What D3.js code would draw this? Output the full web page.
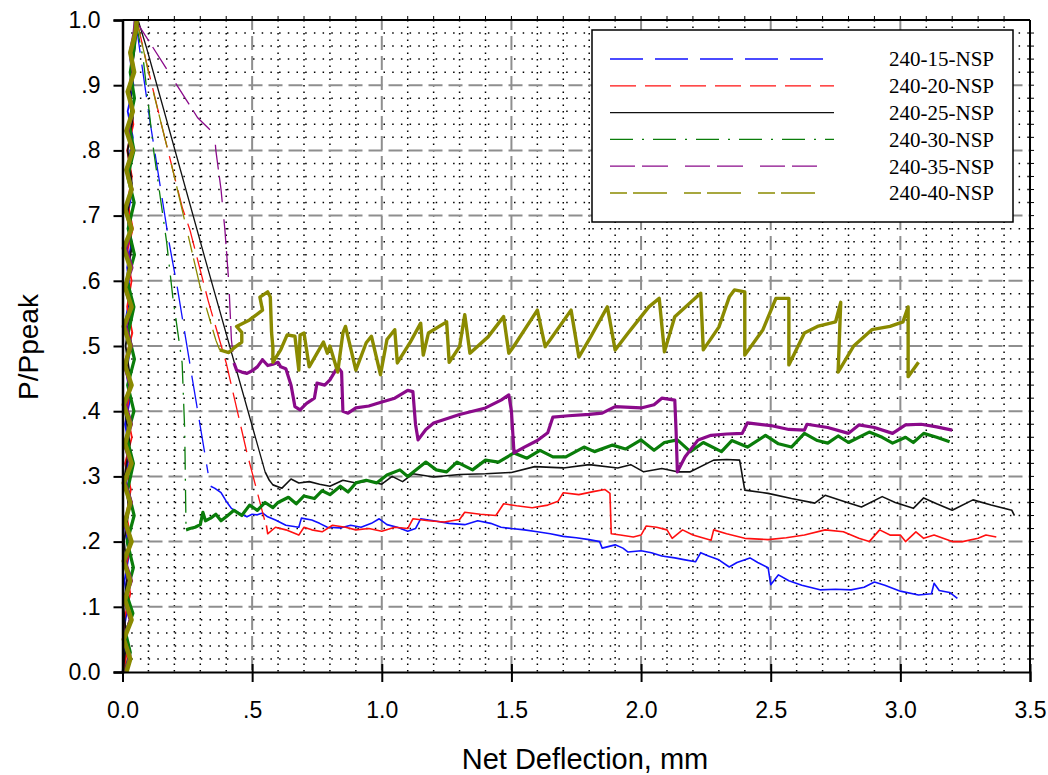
<!DOCTYPE html>
<html><head><meta charset="utf-8">
<script src="https://cdn.jsdelivr.net/npm/d3@7"></script>
<style>body{margin:0;background:#fff}svg{display:block}</style>
</head><body>
<svg id="c" width="1048" height="775"></svg>
<script>
// ---------------- DATA ----------------
const seriesNames = ["240-15-NSP","240-20-NSP","240-25-NSP","240-30-NSP","240-35-NSP","240-40-NSP"];
const xTickValues = [0,0.5,1.0,1.5,2.0,2.5,3.0,3.5];
const xTickLabels = ["0.0",".5","1.0","1.5","2.0","2.5","3.0","3.5"];
const yTickValues = [0,0.1,0.2,0.3,0.4,0.5,0.6,0.7,0.8,0.9,1.0];
const yTickLabels = ["0.0",".1",".2",".3",".4",".5",".6",".7",".8",".9","1.0"];

// pre-peak (loading) branches
const blueRise = [[0.0,0],[0.01,0.03],[0.003,0.06],[0.02,0.1],[0.008,0.14],[0.025,0.18],[0.01,0.22],[0.03,0.26],[0.012,0.3],[0.028,0.34],[0.01,0.38],[0.03,0.42],[0.015,0.46],[0.032,0.5],[0.012,0.54],[0.03,0.58],[0.018,0.62],[0.035,0.66],[0.02,0.7],[0.038,0.74],[0.022,0.78],[0.04,0.82],[0.02,0.86],[0.042,0.9],[0.03,0.94],[0.045,0.97],[0.05,1.0]];
const redRise = [[0.005,0],[0.02,0.04],[0.006,0.08],[0.03,0.12],[0.012,0.16],[0.035,0.2],[0.015,0.24],[0.032,0.28],[0.01,0.32],[0.036,0.36],[0.016,0.4],[0.034,0.44],[0.012,0.48],[0.038,0.52],[0.018,0.56],[0.035,0.6],[0.015,0.64],[0.04,0.68],[0.02,0.72],[0.036,0.76],[0.018,0.8],[0.042,0.84],[0.025,0.88],[0.045,0.92],[0.035,0.96],[0.055,1.0]];
const blackRise = [[0.002,0],[0.015,0.05],[0.004,0.1],[0.02,0.15],[0.006,0.2],[0.025,0.25],[0.008,0.3],[0.028,0.35],[0.01,0.4],[0.03,0.45],[0.012,0.5],[0.03,0.55],[0.015,0.6],[0.035,0.65],[0.018,0.7],[0.036,0.75],[0.02,0.8],[0.04,0.85],[0.028,0.9],[0.045,0.95],[0.06,1.0]];
const greenRise = [[0.01,0],[0.03,0.03],[0.012,0.06],[0.04,0.09],[0.015,0.12],[0.042,0.16],[0.018,0.2],[0.045,0.24],[0.02,0.28],[0.042,0.32],[0.016,0.36],[0.044,0.4],[0.02,0.44],[0.046,0.48],[0.022,0.52],[0.044,0.56],[0.018,0.6],[0.046,0.64],[0.022,0.68],[0.045,0.72],[0.02,0.76],[0.044,0.8],[0.025,0.84],[0.046,0.88],[0.03,0.92],[0.046,0.96],[0.05,1.0]];
const purpleRise = [[0.012,0],[0.028,0.025],[0.006,0.05],[0.03,0.08],[0.008,0.11],[0.034,0.14],[0.01,0.17],[0.032,0.2],[0.006,0.23],[0.034,0.26],[0.01,0.29],[0.03,0.32],[0.008,0.35],[0.034,0.38],[0.012,0.41],[0.03,0.44],[0.008,0.47],[0.034,0.5],[0.012,0.53],[0.032,0.56],[0.01,0.59],[0.036,0.62],[0.014,0.65],[0.034,0.68],[0.012,0.71],[0.036,0.74],[0.016,0.77],[0.038,0.8],[0.02,0.83],[0.04,0.86],[0.022,0.89],[0.042,0.92],[0.03,0.95],[0.045,0.98],[0.05,1.0]];
const oliveRise = [[0.015,0],[0.03,0.02],[0.005,0.05],[0.035,0.08],[0.01,0.11],[0.03,0.14],[0.005,0.17],[0.035,0.2],[0.01,0.23],[0.03,0.26],[0.005,0.29],[0.035,0.32],[0.01,0.35],[0.03,0.38],[0.005,0.41],[0.035,0.44],[0.01,0.47],[0.03,0.5],[0.005,0.53],[0.035,0.56],[0.01,0.59],[0.03,0.62],[0.005,0.65],[0.035,0.68],[0.01,0.71],[0.035,0.74],[0.015,0.77],[0.04,0.8],[0.015,0.83],[0.04,0.86],[0.02,0.89],[0.045,0.92],[0.03,0.95],[0.05,0.98],[0.055,1.0]];

// post-peak drop branches
const blueDrop = [[0.05,1.0],[0.105,0.847],[0.18,0.658],[0.213,0.586],[0.27,0.448],[0.33,0.305]];
const redDrop = [[0.055,1.0],[0.093,0.934],[0.15,0.84],[0.23,0.713],[0.26,0.678],[0.33,0.57],[0.40,0.474],[0.48,0.336],[0.55,0.23]];
const blackDrop = [[0.06,1.0],[0.093,0.957],[0.317,0.636],[0.55,0.307]];
const greenDrop = [[0.05,1.0],[0.08,0.94],[0.12,0.8],[0.17,0.66],[0.194,0.575],[0.23,0.474],[0.24,0.37],[0.245,0.22]];
const purpleDrop = [[0.05,1.0],[0.17,0.925],[0.29,0.85],[0.355,0.825],[0.36,0.8],[0.38,0.74],[0.395,0.678],[0.41,0.597],[0.42,0.51],[0.43,0.474]];
const oliveDrop = [[0.055,1.0],[0.1,0.92],[0.2,0.76],[0.3,0.59],[0.36,0.509],[0.375,0.494]];

// residual branches
const blueResid = [[0.34,0.285],[0.355,0.282],[0.38,0.275],[0.40,0.262],[0.42,0.251],[0.45,0.244],[0.48,0.238],[0.50,0.242],[0.52,0.241],[0.54,0.244],[0.56,0.238],[0.59,0.233],[0.63,0.225],[0.68,0.222],[0.69,0.236],[0.73,0.233],[0.76,0.228],[0.79,0.222],[0.84,0.221],[0.88,0.225],[0.92,0.222],[0.96,0.228],[0.99,0.235],[1.02,0.226],[1.06,0.222],[1.10,0.216],[1.13,0.22],[1.15,0.235],[1.2,0.232],[1.26,0.228],[1.32,0.226],[1.37,0.232],[1.42,0.228],[1.46,0.222],[1.5,0.22],[1.55,0.218],[1.6,0.215],[1.65,0.212],[1.7,0.208],[1.75,0.206],[1.8,0.203],[1.84,0.2],[1.85,0.19],[1.9,0.195],[1.93,0.19],[1.95,0.184],[2.0,0.186],[2.04,0.183],[2.08,0.178],[2.13,0.175],[2.17,0.172],[2.21,0.169],[2.23,0.183],[2.26,0.178],[2.3,0.172],[2.34,0.161],[2.37,0.168],[2.42,0.175],[2.45,0.168],[2.49,0.16],[2.50,0.134],[2.53,0.149],[2.57,0.14],[2.62,0.133],[2.69,0.126],[2.75,0.127],[2.81,0.126],[2.86,0.13],[2.90,0.138],[2.94,0.133],[3.0,0.124],[3.07,0.118],[3.12,0.12],[3.13,0.136],[3.15,0.125],[3.19,0.122],[3.22,0.113]];
const redResid = [[0.555,0.225],[0.56,0.212],[0.59,0.222],[0.63,0.218],[0.68,0.21],[0.70,0.222],[0.73,0.218],[0.77,0.215],[0.81,0.225],[0.86,0.222],[0.9,0.218],[0.95,0.22],[1.0,0.216],[1.05,0.222],[1.1,0.22],[1.12,0.235],[1.18,0.232],[1.24,0.23],[1.3,0.234],[1.32,0.245],[1.38,0.242],[1.44,0.24],[1.47,0.258],[1.52,0.255],[1.58,0.252],[1.64,0.256],[1.68,0.262],[1.7,0.275],[1.76,0.272],[1.82,0.277],[1.86,0.28],[1.88,0.274],[1.885,0.212],[1.92,0.21],[1.97,0.207],[2.0,0.21],[2.02,0.224],[2.06,0.222],[2.1,0.218],[2.12,0.205],[2.16,0.218],[2.2,0.21],[2.27,0.202],[2.28,0.218],[2.33,0.212],[2.4,0.205],[2.49,0.203],[2.56,0.206],[2.63,0.21],[2.71,0.218],[2.78,0.215],[2.84,0.205],[2.88,0.2],[2.92,0.218],[2.96,0.21],[3.0,0.21],[3.02,0.2],[3.06,0.215],[3.09,0.205],[3.13,0.21],[3.2,0.2],[3.24,0.2],[3.3,0.205],[3.33,0.21],[3.37,0.207]];
const blackResid = [[0.55,0.307],[0.565,0.295],[0.58,0.287],[0.615,0.282],[0.65,0.296],[0.68,0.29],[0.72,0.292],[0.76,0.288],[0.8,0.285],[0.85,0.294],[0.9,0.29],[0.95,0.293],[1.0,0.288],[1.04,0.3],[1.08,0.292],[1.12,0.304],[1.2,0.299],[1.3,0.303],[1.4,0.304],[1.5,0.306],[1.59,0.315],[1.7,0.313],[1.8,0.318],[1.91,0.313],[1.96,0.318],[2.01,0.307],[2.08,0.312],[2.14,0.307],[2.19,0.307],[2.28,0.325],[2.33,0.326],[2.38,0.325],[2.40,0.279],[2.49,0.274],[2.58,0.266],[2.67,0.259],[2.71,0.271],[2.78,0.262],[2.85,0.253],[2.93,0.269],[2.98,0.26],[3.05,0.251],[3.09,0.267],[3.14,0.258],[3.2,0.248],[3.28,0.264],[3.35,0.256],[3.43,0.248],[3.44,0.24]];
const greenResid = [[0.245,0.218],[0.26,0.22],[0.28,0.222],[0.3,0.226],[0.31,0.245],[0.32,0.232],[0.34,0.236],[0.36,0.242],[0.38,0.232],[0.4,0.238],[0.43,0.248],[0.46,0.24],[0.49,0.256],[0.52,0.248],[0.55,0.26],[0.58,0.252],[0.6,0.26],[0.64,0.268],[0.67,0.258],[0.7,0.27],[0.74,0.266],[0.77,0.278],[0.8,0.272],[0.84,0.285],[0.87,0.276],[0.9,0.29],[0.94,0.294],[0.98,0.29],[1.02,0.302],[1.07,0.31],[1.1,0.3],[1.17,0.322],[1.21,0.31],[1.25,0.307],[1.29,0.322],[1.35,0.31],[1.4,0.325],[1.45,0.322],[1.51,0.336],[1.56,0.328],[1.61,0.34],[1.66,0.33],[1.71,0.33],[1.78,0.345],[1.82,0.338],[1.89,0.348],[1.94,0.342],[2.0,0.356],[2.05,0.34],[2.09,0.352],[2.14,0.356],[2.19,0.338],[2.24,0.352],[2.31,0.338],[2.35,0.355],[2.41,0.345],[2.48,0.363],[2.53,0.35],[2.58,0.345],[2.63,0.366],[2.68,0.355],[2.72,0.351],[2.76,0.362],[2.8,0.352],[2.88,0.368],[2.93,0.36],[2.97,0.351],[3.02,0.36],[3.05,0.352],[3.09,0.366],[3.14,0.36],[3.19,0.353]];
const purpleResid = [[0.43,0.474],[0.44,0.463],[0.46,0.46],[0.48,0.458],[0.5,0.462],[0.52,0.468],[0.54,0.479],[0.56,0.47],[0.58,0.472],[0.6,0.475],[0.61,0.468],[0.63,0.465],[0.65,0.44],[0.665,0.407],[0.685,0.402],[0.71,0.412],[0.74,0.42],[0.75,0.443],[0.78,0.44],[0.8,0.448],[0.83,0.468],[0.845,0.46],[0.85,0.4],[0.87,0.397],[0.9,0.405],[0.95,0.408],[1.0,0.414],[1.05,0.42],[1.1,0.432],[1.12,0.43],[1.13,0.38],[1.14,0.356],[1.17,0.372],[1.2,0.382],[1.3,0.395],[1.4,0.405],[1.46,0.417],[1.49,0.425],[1.5,0.4],[1.51,0.336],[1.55,0.345],[1.6,0.355],[1.64,0.367],[1.66,0.391],[1.72,0.393],[1.8,0.395],[1.85,0.397],[1.9,0.407],[2.0,0.405],[2.05,0.41],[2.08,0.42],[2.13,0.417],[2.135,0.37],[2.14,0.307],[2.17,0.33],[2.22,0.356],[2.27,0.363],[2.33,0.365],[2.39,0.366],[2.41,0.382],[2.5,0.378],[2.57,0.372],[2.63,0.371],[2.64,0.38],[2.72,0.375],[2.8,0.366],[2.84,0.379],[2.9,0.375],[2.97,0.366],[3.02,0.379],[3.08,0.38],[3.14,0.376],[3.2,0.371]];
const oliveResid = [[0.375,0.494],[0.41,0.49],[0.43,0.497],[0.46,0.506],[0.46,0.521],[0.44,0.53],[0.49,0.54],[0.5,0.543],[0.54,0.555],[0.53,0.575],[0.56,0.583],[0.57,0.575],[0.575,0.52],[0.58,0.498],[0.58,0.475],[0.61,0.494],[0.635,0.517],[0.665,0.515],[0.68,0.463],[0.685,0.517],[0.70,0.52],[0.72,0.468],[0.775,0.506],[0.79,0.489],[0.8,0.5],[0.83,0.46],[0.85,0.52],[0.86,0.53],[0.9,0.463],[0.94,0.505],[0.96,0.515],[0.995,0.456],[1.02,0.51],[1.05,0.525],[1.06,0.474],[1.11,0.506],[1.15,0.535],[1.16,0.486],[1.18,0.52],[1.25,0.537],[1.26,0.475],[1.3,0.499],[1.32,0.548],[1.34,0.489],[1.41,0.514],[1.47,0.545],[1.49,0.489],[1.51,0.5],[1.6,0.555],[1.63,0.499],[1.65,0.51],[1.73,0.555],[1.76,0.483],[1.8,0.51],[1.87,0.56],[1.9,0.494],[1.95,0.52],[2.03,0.56],[2.07,0.573],[2.09,0.491],[2.13,0.545],[2.2,0.57],[2.23,0.581],[2.24,0.494],[2.3,0.529],[2.34,0.575],[2.36,0.586],[2.4,0.583],[2.4,0.486],[2.47,0.525],[2.52,0.573],[2.57,0.573],[2.57,0.471],[2.63,0.52],[2.68,0.53],[2.75,0.537],[2.77,0.567],[2.76,0.46],[2.82,0.5],[2.89,0.525],[2.96,0.53],[3.01,0.537],[3.03,0.56],[3.03,0.453],[3.07,0.475]];

// ---------------- DRAW ----------------
const svg = d3.select("#c");
const X0 = 122.5, X1 = 1030, Y0 = 672, Y1 = 20;
const x = d3.scaleLinear().domain([0,3.5]).range([X0,X1]);
const y = d3.scaleLinear().domain([0,1]).range([Y0,Y1]);

const styles = [
  {color:"#1010ff", dash:"33,12", rw:1.3, resW:1.6},
  {color:"#ff1010", dash:"26,9", rw:1.3, resW:1.6},
  {color:"#111111", dash:null, rw:1.3, resW:1.6},
  {color:"#0a7d0a", dash:"23,9,2,9", rw:1.3, resW:3.2},
  {color:"#8a0a8a", dash:"25,7,26,17", rw:1.3, resW:3.2},
  {color:"#8a8a00", dash:"17,6,34,17", rw:1.3, resW:3.4}
];
const rises = [blueRise,redRise,blackRise,greenRise,purpleRise,oliveRise];
const drops = [blueDrop,redDrop,blackDrop,greenDrop,purpleDrop,oliveDrop];
const resids = [blueResid,redResid,blackResid,greenResid,purpleResid,oliveResid];
const riseW = [1.8,1.8,1.8,3.2,3.4,4.5];

// minor grid
const g = svg.append("g");
const minorX = d3.range(1,35).map(i=>i/10).filter((v,i)=>((i+1)%5)!==0);
const minorY = d3.range(1,50).map(i=>i/50).filter((v,i)=>((i+1)%5)!==0);
g.selectAll(".mx").data(minorX).join("line")
  .attr("x1",d=>x(d)).attr("x2",d=>x(d)).attr("y1",Y1).attr("y2",Y0)
  .attr("stroke","#000").attr("stroke-width",1.5).attr("stroke-dasharray","1.5,5");
g.selectAll(".my").data(minorY).join("line")
  .attr("x1",X0).attr("x2",X1).attr("y1",d=>y(d)).attr("y2",d=>y(d))
  .attr("stroke","#000").attr("stroke-width",1.5).attr("stroke-dasharray","1.5,7.2");
// major grid
const majX = [0.5,1.0,1.5,2.0,2.5,3.0];
const majY = [0.1,0.2,0.3,0.4,0.5,0.6,0.7,0.8,0.9];
g.selectAll(".gx").data(majX).join("line")
  .attr("x1",d=>x(d)).attr("x2",d=>x(d)).attr("y1",Y1).attr("y2",Y0)
  .attr("stroke","#8e8e8e").attr("stroke-width",2).attr("stroke-dasharray","14,6").attr("stroke-dashoffset",4);
g.selectAll(".gy").data(majY).join("line")
  .attr("x1",X0).attr("x2",X1).attr("y1",d=>y(d)).attr("y2",d=>y(d))
  .attr("stroke","#8e8e8e").attr("stroke-width",2).attr("stroke-dasharray","14,6").attr("stroke-dashoffset",-6);

// series
const line = d3.line().x(d=>x(d[0])).y(d=>y(d[1]));
const sg = svg.append("g");
for (let i=0;i<6;i++){
  const s = styles[i];
  sg.append("path").attr("d",line(drops[i])).attr("fill","none").attr("stroke",s.color)
    .attr("stroke-width",s.rw).attr("stroke-dasharray",s.dash);
  sg.append("path").attr("d",line(resids[i])).attr("fill","none").attr("stroke",s.color)
    .attr("stroke-width",s.resW).attr("stroke-linejoin","round");
}
for (let i=0;i<6;i++){
  sg.append("path").attr("d",line(rises[i])).attr("fill","none").attr("stroke",styles[i].color)
    .attr("stroke-width",riseW[i]).attr("stroke-linejoin","round");
}

// axes
const ax = svg.append("g").attr("font-family","'Liberation Sans', Arial, sans-serif");
const xAxis = d3.axisBottom(x).tickValues(xTickValues).tickFormat((d,i)=>xTickLabels[i]).tickSize(10).tickPadding(20);
const gx = ax.append("g").attr("transform",`translate(0,${Y0})`).call(xAxis);
gx.select(".domain").attr("stroke-width",2);
gx.selectAll(".tick line").attr("stroke-width",2).attr("y1",-8);
gx.selectAll("text").attr("font-size",23).attr("fill","#000").attr("font-family","'Liberation Sans', Arial, sans-serif");
const yAxis = d3.axisLeft(y).tickValues(yTickValues).tickFormat((d,i)=>yTickLabels[i]).tickSize(9).tickPadding(13);
const gy = ax.append("g").attr("transform",`translate(${X0},0)`).call(yAxis);
gy.select(".domain").attr("stroke-width",2.5);
gy.selectAll(".tick line").attr("stroke-width",2);
gy.selectAll("text").attr("font-size",23).attr("fill","#000").attr("font-family","'Liberation Sans', Arial, sans-serif");
// top and right frame with small ticks
ax.append("line").attr("x1",X0).attr("x2",X1).attr("y1",Y1).attr("y2",Y1).attr("stroke","#000").attr("stroke-width",2);
ax.append("line").attr("x1",X1).attr("x2",X1).attr("y1",Y1).attr("y2",Y0).attr("stroke","#000").attr("stroke-width",2);
const topT = d3.range(1,35).map(i=>i/10);
ax.selectAll(".tt").data(topT).join("line").attr("x1",d=>x(d)).attr("x2",d=>x(d)).attr("y1",Y1).attr("y2",Y1-4).attr("stroke","#000").attr("stroke-width",1);
const rightT = d3.range(1,50).map(i=>i/50);
ax.selectAll(".rt").data(rightT).join("line").attr("x1",X1).attr("x2",X1+4).attr("y1",d=>y(d)).attr("y2",d=>y(d)).attr("stroke","#000").attr("stroke-width",1);

// axis titles
svg.append("text").attr("x",585).attr("y",769).attr("text-anchor","middle")
  .attr("font-family","'Liberation Sans', Arial, sans-serif").attr("font-size",29).text("Net Deflection, mm");
svg.append("text").attr("transform","translate(38,347) rotate(-90)").attr("text-anchor","middle")
  .attr("font-family","'Liberation Sans', Arial, sans-serif").attr("font-size",28).text("P/Ppeak");

// legend
const lg = svg.append("g");
lg.append("rect").attr("x",592).attr("y",30).attr("width",421).attr("height",192)
  .attr("fill","#fff").attr("stroke","#000").attr("stroke-width",1.5);
const legEnd = [827,834,834,834,817,817];
seriesNames.forEach((nm,i)=>{
  const yy = 59 + i*26.8;
  lg.append("line").attr("x1",610).attr("x2",legEnd[i]).attr("y1",yy).attr("y2",yy)
    .attr("stroke",styles[i].color).attr("stroke-width",1.3).attr("stroke-dasharray",styles[i].dash);
  lg.append("text").attr("x",889).attr("y",yy).attr("dy","0.35em")
    .attr("font-family","'Liberation Serif','Times New Roman',serif").attr("font-size",21).text(nm);
});
</script>
</body></html>
